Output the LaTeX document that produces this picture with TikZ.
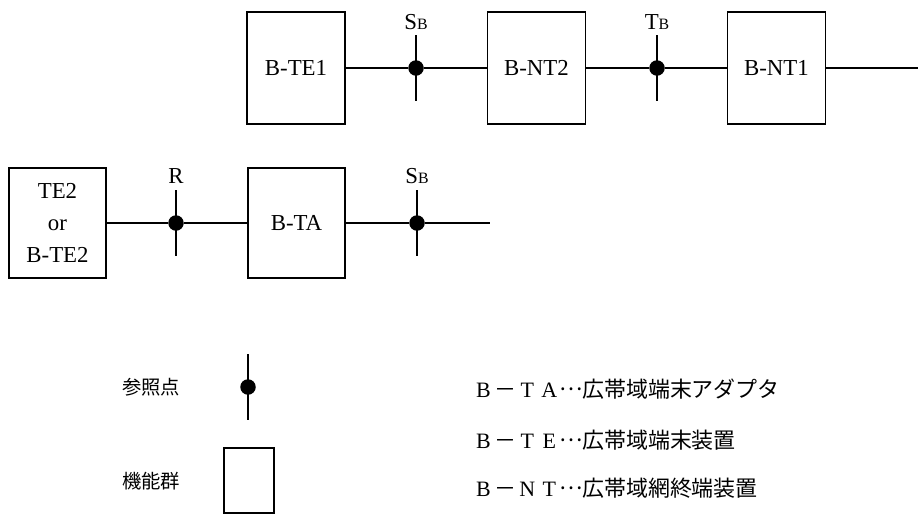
\documentclass[tikz,border=0pt]{standalone}
\usepackage{fontspec}
\setmainfont{Liberation Serif}
\newfontfamily\jp{Noto Sans CJK JP}
\usepackage{tikz}
\usetikzlibrary{positioning,calc}
\newcommand\fw[1]{\makebox[1em]{\rmfamily #1}}
\newcommand\midell{\makebox[1em]{\raisebox{0.3em}{…}}}
\newcommand\subB{{\fontsize{9}{9}\selectfont B}}

\begin{document}
\begin{tikzpicture}[
  x=0.02cm, y=-0.02cm,
  unit/.style={draw, rectangle, minimum width=1.96cm, minimum height=2.24cm, inner sep=0pt, line width=0.6pt, align=center, font=\fontsize{13}{18}\selectfont},
  lowunit/.style={unit, minimum width=1.94cm, minimum height=2.2cm},
  refdot/.style={circle, fill=black, minimum size=0.31cm, inner sep=0pt},
  pt/.style={font=\fontsize{13}{15}\selectfont, inner sep=1pt},
  wire/.style={line width=0.6pt},
  legend/.style={font=\jp\fontsize{11}{12}\selectfont, inner sep=0pt},
  expl/.style={font=\jp\fontsize{12.5}{14}\selectfont, anchor=west, inner sep=0pt},
]
  \useasboundingbox (0,0) rectangle (919,515);

  % upper chain
  \node[unit] (bte1) at (296,68) {B-TE1};
  \node[unit] (bnt2) at (536.5,68) {B-NT2};
  \node[unit] (bnt1) at (776.5,68) {B-NT1};
  \node[refdot] (sb1) at (416,68) {};
  \node[refdot] (tb) at (657,68) {};
  \coordinate (upend) at (918,68);
  \node[pt] (sb1l) at (416,22) {S\subB};
  \node[pt] (tbl) at (657,22) {T\subB};

  \draw[wire] (bte1) -- (sb1) -- (bnt2);
  \draw[wire] (bnt2) -- (tb) -- (bnt1);
  \draw[wire] (bnt1) -- (upend);
  \draw[wire] (sb1.center) ++(0,-33) -- ++(0,66);
  \draw[wire] (tb.center) ++(0,-33) -- ++(0,66);

  % lower chain
  \node[lowunit] (te2) at (57.5,223) {TE2\\or\\B-TE2};
  \node[lowunit] (bta) at (296.5,223) {B-TA};
  \node[refdot] (r) at (176,223) {};
  \node[refdot] (sb2) at (417,223) {};
  \coordinate (lowend) at (490,223);
  \node[pt] (rl) at (176,176) {R};
  \node[pt] (sb2l) at (417,176) {S\subB};

  \draw[wire] (te2) -- (r) -- (bta);
  \draw[wire] (bta) -- (sb2) -- (lowend);
  \draw[wire] (r.center) ++(0,-33) -- ++(0,66);
  \draw[wire] (sb2.center) ++(0,-33) -- ++(0,66);

  % legend
  \node[legend] (refl) at (151,387) {参照点};
  \node[refdot] (legdot) at (248,387) {};
  \draw[wire] (legdot.center) ++(0,-33) -- ++(0,66);
  \node[legend] (fgl) at (151,481) {機能群};
  \node[unit, minimum width=1cm, minimum height=1.3cm] (legbox) at (249,480.5) {};

  \node[expl] (ta) at (472,389) {\fw{B}－\fw{T}\fw{A}\midell 広帯域端末アダプタ};
  \node[expl] (te) at (472,440) {\fw{B}－\fw{T}\fw{E}\midell 広帯域端末装置};
  \node[expl] (nt) at (472,488) {\fw{B}－\fw{N}\fw{T}\midell 広帯域網終端装置};
\end{tikzpicture}
\end{document}
